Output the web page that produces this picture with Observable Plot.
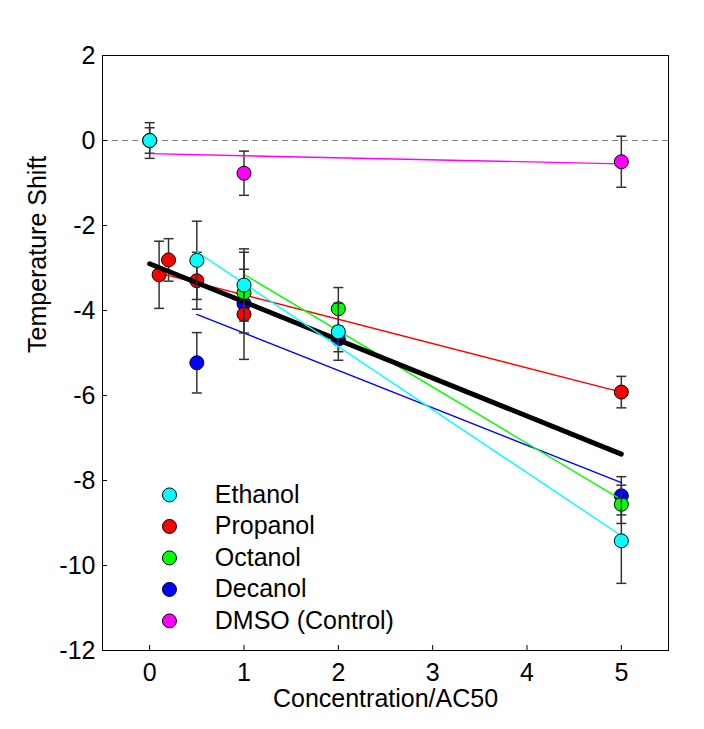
<!DOCTYPE html>
<html>
<head>
<meta charset="utf-8">
<script src="https://cdn.jsdelivr.net/npm/d3@7"></script>
<script src="https://cdn.jsdelivr.net/npm/@observablehq/plot@0.6"></script>
<style>
  html, body { margin: 0; padding: 0; background: #fff; }
  #chart { width: 704px; height: 729px; }
</style>
</head>
<body>
<div id="chart"></div>
<script>
// ---- Data ----
const seriesNames = ["Ethanol", "Propanol", "Octanol", "Decanol", "DMSO (Control)"];
const seriesColors = ["#00FFFF", "#FF0000", "#00FF00", "#0000FF", "#FF00FF"];

const ethanolX = [0, 0.5, 1, 2, 5];
const ethanolY = [0, -2.82, -3.40, -4.50, -9.42];
const ethanolErr = [0.42, 0.92, 0.85, 0.67, 1.00];

const propanolX = [0.1, 0.2, 0.5, 1, 5];
const propanolY = [-3.16, -2.81, -3.30, -4.09, -5.92];
const propanolErr = [0.79, 0.50, 0.67, 1.06, 0.37];

const octanolX = [1, 2, 5];
const octanolY = [-3.58, -3.96, -8.56];
const octanolErr = [0.95, 0.50, 0.45];

const decanolX = [0.5, 1, 2, 5];
const decanolY = [-5.23, -3.84, -4.67, -8.36];
const decanolErr = [0.71, 0.30, 0.30, 0.45];

const dmsoX = [0, 1, 5];
const dmsoY = [0, -0.77, -0.50];
const dmsoErr = [0.30, 0.52, 0.60];

// fitted lines (end points)
const ethanolFitX = [0.5, 5], ethanolFitY = [-2.62, -9.30];
const propanolFitX = [0.1, 5], propanolFitY = [-3.12, -5.92];
const octanolFitX = [1, 5], octanolFitY = [-3.15, -8.45];
const decanolFitX = [0.5, 5], decanolFitY = [-4.09, -8.05];
const dmsoFitX = [0, 5], dmsoFitY = [-0.31, -0.55];
const overallFitX = [0, 5], overallFitY = [-2.90, -7.38];

const xTicks = [0, 1, 2, 3, 4, 5];
const yTicks = [2, 0, -2, -4, -6, -8, -10, -12];
const xLabel = "Concentration/AC50";
const yLabel = "Temperature Shift";

// ---- Build tables ----
const rows = (xs, ys, es) => xs.map((x, i) => ({x, y: ys[i], e: es[i]}));
const line = (xs, ys) => xs.map((x, i) => ({x, y: ys[i]}));

const series = {
  "Ethanol": {pts: rows(ethanolX, ethanolY, ethanolErr), fit: line(ethanolFitX, ethanolFitY)},
  "Propanol": {pts: rows(propanolX, propanolY, propanolErr), fit: line(propanolFitX, propanolFitY)},
  "Octanol": {pts: rows(octanolX, octanolY, octanolErr), fit: line(octanolFitX, octanolFitY)},
  "Decanol": {pts: rows(decanolX, decanolY, decanolErr), fit: line(decanolFitX, decanolFitY)},
  "DMSO (Control)": {pts: rows(dmsoX, dmsoY, dmsoErr), fit: line(dmsoFitX, dmsoFitY)}
};
const colorOf = name => seriesColors[seriesNames.indexOf(name)];

const capSymbol = {
  draw(ctx, size) {
    const w = Math.sqrt(size / Math.PI);
    ctx.moveTo(-w, 0);
    ctx.lineTo(w, 0);
  }
};

const errColor = "#333333";
function seriesMarks(name) {
  const s = series[name];
  const c = colorOf(name);
  return [
    Plot.ruleX(s.pts, {x: "x", y1: d => d.y - d.e, y2: d => d.y + d.e, stroke: errColor, strokeWidth: 1.5}),
    Plot.dot(s.pts, {x: "x", y: d => d.y + d.e, symbol: capSymbol, r: 5, stroke: errColor, strokeWidth: 1.5, fill: "none"}),
    Plot.dot(s.pts, {x: "x", y: d => d.y - d.e, symbol: capSymbol, r: 5, stroke: errColor, strokeWidth: 1.5, fill: "none"}),
    Plot.line(s.fit, {x: "x", y: "y", stroke: c, strokeWidth: 1.4}),
    Plot.dot(s.pts, {x: "x", y: "y", r: 7, fill: c, stroke: "#000", strokeWidth: 1})
  ];
}

// legend laid out in data space inside the frame
const legendRows = seriesNames.map((n, i) => ({name: n, color: seriesColors[i], i}));
const legX = 0.21, legTextX = 0.69, legY0 = -8.34, legStep = 0.741;

const chart = Plot.plot({
  width: 704,
  height: 729,
  marginLeft: 102,
  marginRight: 36,
  marginTop: 55,
  marginBottom: 79,
  style: {fontFamily: "'Liberation Sans', Arial, sans-serif", fontSize: "25px", background: "#fff", color: "#000"},
  x: {domain: [-0.5, 5.5]},
  y: {domain: [-12, 2]},
  marks: [
    Plot.ruleY([0], {stroke: "#808080", strokeWidth: 1, strokeDasharray: "6,4"}),
    Plot.axisX(xTicks, {tickSize: 0, tickPadding: 13, label: null, fontSize: 25}),
    Plot.axisY(yTicks, {tickSize: 0, tickPadding: 7, label: null, fontSize: 25, tickFormat: d => String(d).replace("−", "-")}),
    Plot.axisX(xTicks, {tickSize: 5, dy: -5, tickFormat: () => "", label: null}),
    Plot.axisY(yTicks, {tickSize: 5, dx: 5, tickFormat: () => "", label: null}),
    ...seriesMarks("DMSO (Control)"),
    ...seriesMarks("Decanol"),
    ...seriesMarks("Propanol"),
    ...seriesMarks("Octanol"),
    Plot.line(line(overallFitX, overallFitY), {x: "x", y: "y", stroke: "#000", strokeWidth: 5}),
    ...seriesMarks("Ethanol"),
    Plot.dot(legendRows, {x: () => legX, y: d => legY0 - d.i * legStep, r: 7, fill: "color", stroke: "#000", strokeWidth: 1}),
    Plot.text(legendRows, {x: () => legTextX, y: d => legY0 - d.i * legStep, text: "name", textAnchor: "start", fontSize: 25, fill: "#000"}),
    Plot.text([xLabel], {frameAnchor: "bottom", dy: 56, fontSize: 25, fill: "#000"}),
    Plot.text([yLabel], {frameAnchor: "left", dx: -65, rotate: -90, fontSize: 25, fill: "#000"}),
    Plot.frame({stroke: "#000", strokeWidth: 1})
  ]
});
document.getElementById("chart").appendChild(chart);
</script>
</body>
</html>
